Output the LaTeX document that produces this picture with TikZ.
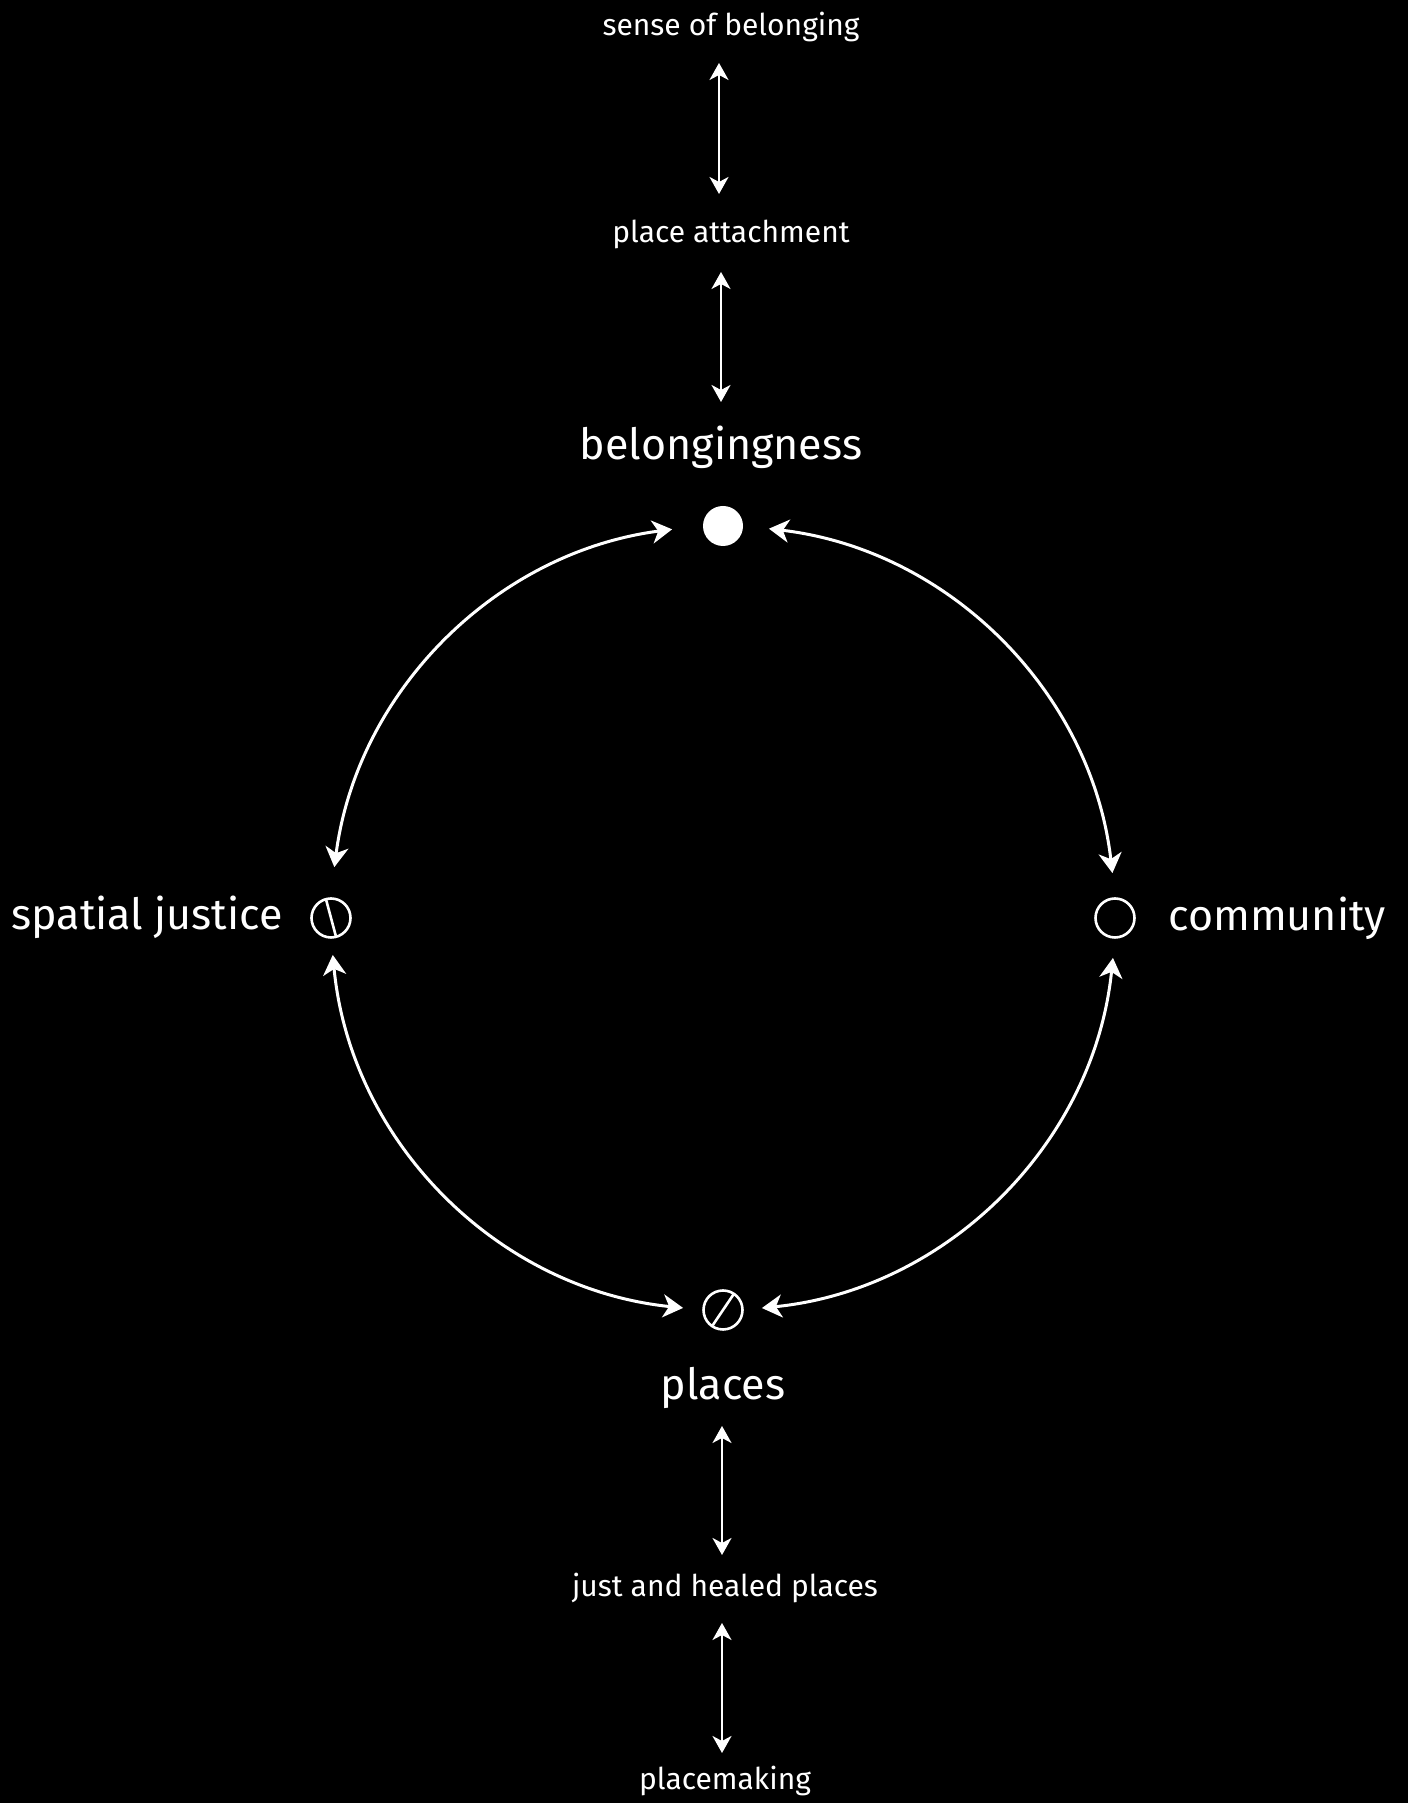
\documentclass[tikz,border=0pt]{standalone}
\usepackage{fontspec}
\setmainfont{Fira Sans}
\usetikzlibrary{arrows.meta}
\begin{document}
\begin{tikzpicture}[x=1pt,y=1pt,
  lbl/.style={text=white,inner sep=0pt,anchor=base},
  big/.style={lbl,font=\fontsize{43}{50}\selectfont},
  small/.style={lbl,font=\fontsize{30}{35}\selectfont},
  arcarrow/.style={draw=white,line width=3pt,
    {Stealth[length=20pt,width=23pt,inset=6pt]}-{Stealth[length=20pt,width=23pt,inset=6pt]}},
  dbl/.style={draw=white,line width=2.2pt,
    {Stealth[length=17pt,width=19pt,inset=5pt]}-{Stealth[length=17pt,width=19pt,inset=5pt]}},
  sym/.style={circle,draw=white,line width=2.6pt,minimum size=39pt,inner sep=0pt}
]
\fill[black] (0,0) rectangle (1408,1803);
\useasboundingbox (0,0) rectangle (1408,1803);

% centre of the cycle
\coordinate (c) at (723,885);

% symbols on the circle
\node[circle,fill=white,minimum size=40pt,inner sep=0pt] (bel) at (723,1277) {};
\node[sym] (sj) at (331,885) {};
\node[sym] (com) at (1115,885) {};
\node[sym] (pl) at (723,493) {};
\draw[white,line width=2.6pt] ([shift={(105:18.5)}]sj.center) -- ([shift={(285:18.5)}]sj.center);
\draw[white,line width=2.6pt] ([shift={(56:18.5)}]pl.center) -- ([shift={(236:18.5)}]pl.center);

% labels
\node[small] (sob) at (731,1767) {sense of belonging};
\node[small] (pa) at (731,1560) {place attachment};
\node[big] (beltext) at (721,1343) {belongingness};
\node[big] (sjtext) at (147,873) {spatial justice};
\node[big] (comtext) at (1277,872) {community};
\node[big] (pltext) at (723,403) {places};
\node[small] (jahp) at (725,206) {just and healed places};
\node[small] (pm) at (725,13) {placemaking};

% circle arcs (on the circle through the four symbols)
\draw[arcarrow] (c) ++(172.54:392) arc[start angle=172.54,end angle=97.46,radius=392];
\draw[arcarrow] (c) ++(83.27:392) arc[start angle=83.27,end angle=6.58,radius=392];
\draw[arcarrow] (c) ++(-5.85:392) arc[start angle=-5.85,end angle=-84.30,radius=392];
\draw[arcarrow] (c) ++(-95.85:392) arc[start angle=-95.85,end angle=-174.59,radius=392];

% vertical arrows
\coordinate (a1t) at (719,1740); \coordinate (a1b) at (719,1609);
\coordinate (a2t) at (721,1531); \coordinate (a2b) at (721,1401);
\coordinate (a5t) at (722,377);  \coordinate (a5b) at (722,248);
\coordinate (a6t) at (722,180);  \coordinate (a6b) at (722,50);
\draw[dbl] (a1t) -- (a1b);
\draw[dbl] (a2t) -- (a2b);
\draw[dbl] (a5t) -- (a5b);
\draw[dbl] (a6t) -- (a6b);
\end{tikzpicture}
\end{document}
